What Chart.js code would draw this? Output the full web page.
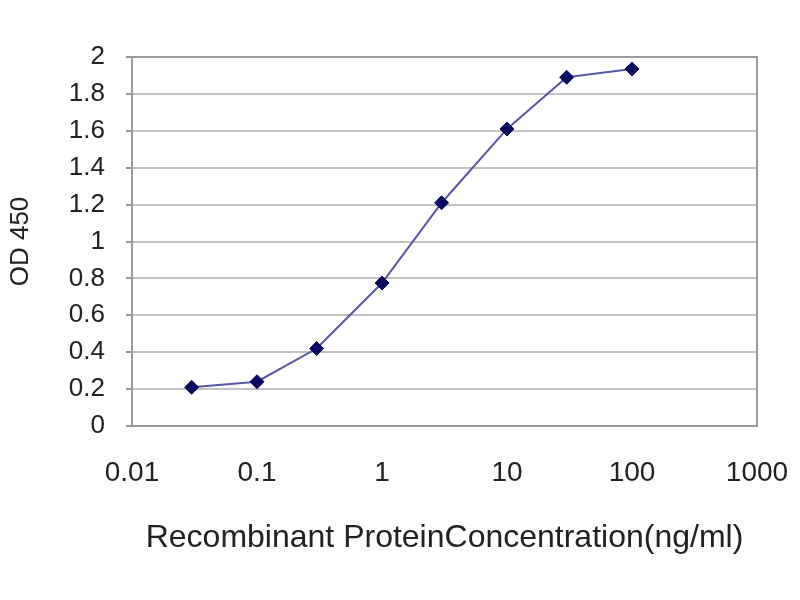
<!DOCTYPE html>
<html>
<head>
<meta charset="utf-8">
<script src="https://cdn.jsdelivr.net/npm/chart.js@4"></script>
<style>
    html, body { margin: 0; padding: 0; background: #fff; }
    #wrap { width: 800px; height: 600px; }
</style>
</head>
<body>
<div id="wrap"><canvas id="odChart" width="800" height="600"></canvas></div>
<script>
// ===== Data =====
const concentrations = [0.03, 0.1, 0.3, 1, 3, 10, 30, 100];
const odValues = [0.21, 0.24, 0.42, 0.775, 1.21, 1.61, 1.89, 1.935];
const xTickValues = [0.01, 0.1, 1, 10, 100, 1000];
const xTickLabels = ['0.01', '0.1', '1', '10', '100', '1000'];
const yTickLabels = ['0', '0.2', '0.4', '0.6', '0.8', '1', '1.2', '1.4', '1.6', '1.8', '2'];

const FONT = "'Liberation Sans', Arial, sans-serif";

// ===== Frame round the plot area =====
const plotFrame = {
    id: 'plotFrame',
    afterDatasetsDraw(chart) {
        const { ctx, chartArea: a } = chart;
        ctx.save();
        ctx.strokeStyle = '#9a9a9a';
        ctx.lineWidth = 2;
        ctx.strokeRect(a.left, a.top, a.right - a.left, a.bottom - a.top);
        ctx.restore();
    }
};

new Chart(document.getElementById('odChart').getContext('2d'), {
    type: 'scatter',
    data: {
        datasets: [{
            data: concentrations.map((c, i) => ({ x: c, y: odValues[i] })),
            showLine: true,
            borderColor: '#5858a6',
            borderWidth: 2,
            pointStyle: 'rectRot',
            pointRadius: 7,
            pointBackgroundColor: '#0a0a5e',
            pointBorderColor: '#0a0a5e',
            pointBorderWidth: 1,
            tension: 0
        }]
    },
    options: {
        responsive: false,
        animation: false,
        layout: { padding: { top: 57, right: 43, left: 0, bottom: 0 } },
        plugins: {
            legend: { display: false },
            tooltip: { enabled: false }
        },
        scales: {
            x: {
                type: 'logarithmic',
                min: 0.01,
                max: 1000,
                afterFit: s => { s.height = 174; s.paddingLeft = 0; s.paddingRight = 0; },
                afterBuildTicks: s => { s.ticks = xTickValues.map(v => ({ value: v })); },
                grid: { display: false, drawTicks: false },
                border: { display: true, color: '#9a9a9a', width: 2 },
                ticks: {
                    autoSkip: false,
                    maxRotation: 0,
                    padding: 30,
                    color: '#222',
                    font: { family: FONT, size: 28 },
                    callback: v => xTickLabels[xTickValues.indexOf(v)]
                },
                title: {
                    display: true,
                    text: 'Recombinant ProteinConcentration(ng/ml)',
                    color: '#222',
                    font: { family: FONT, size: 32 },
                    padding: { top: 0, bottom: 43 }
                }
            },
            y: {
                min: 0,
                max: 2,
                afterFit: s => { s.width = 132; s.paddingTop = 0; s.paddingBottom = 0; },
                afterBuildTicks: s => { s.ticks = yTickLabels.map(t => ({ value: Number(t) })); },
                grid: { color: '#c4c4c4', lineWidth: 2, drawTicks: true, tickLength: 6, tickColor: '#9a9a9a' },
                border: { display: true, color: '#9a9a9a', width: 2 },
                ticks: {
                    padding: 21,
                    color: '#222',
                    font: { family: FONT, size: 26 },
                    callback: v => yTickLabels[Math.round(v * 5)]
                },
                title: {
                    display: true,
                    text: 'OD 450',
                    color: '#222',
                    font: { family: FONT, size: 26 },
                    padding: { top: 5, bottom: 0 }
                }
            }
        }
    },
    plugins: [plotFrame]
});
</script>
</body>
</html>
